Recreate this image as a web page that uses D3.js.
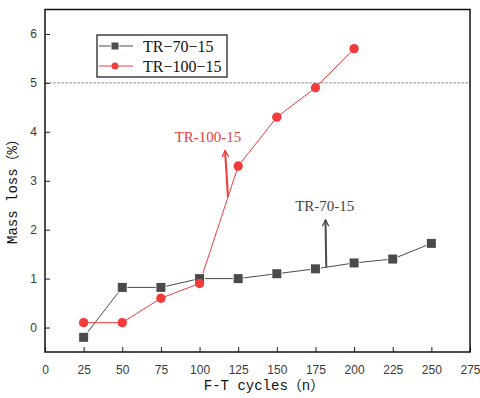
<!DOCTYPE html>
<html>
<head>
<meta charset="utf-8">
<script src="https://cdn.jsdelivr.net/npm/d3@7"></script>
<style>
  body { margin: 0; background: #fff; }
  svg { display: block; }
</style>
</head>
<body>
<div id="chart"></div>
<script>
// data
const cycles = [25, 50, 75, 100, 125, 150, 175, 200, 225, 250];
const tr70 = [-0.2, 0.82, 0.82, 1.0, 1.0, 1.1, 1.2, 1.32, 1.4, 1.72];
const tr100 = [0.1, 0.1, 0.6, 0.9, 3.3, 4.3, 4.9, 5.7];
const xTicks = [0, 25, 50, 75, 100, 125, 150, 175, 200, 225, 250, 275];
const yTicks = [0, 1, 2, 3, 4, 5, 6];
const limitLine = 5;

const W = 480, H = 398;
const red = "#f03c3c", grey = "#4a4a4a";

const svg = d3.select("#chart").append("svg")
    .attr("width", W).attr("height", H);

// scales
const x = d3.scaleLinear().domain([0, 275]).range([45, 470]);
const y = d3.scaleLinear().domain([-0.5, 6.5]).range([352, 9.5]);

// dotted 5% line
svg.append("line")
    .attr("x1", x(0)).attr("x2", x(275))
    .attr("y1", y(limitLine)).attr("y2", y(limitLine))
    .attr("stroke", "#9a9a9a").attr("stroke-width", 1)
    .attr("stroke-dasharray", "3,1");

// axes, ticks inside
const xAxis = svg.append("g")
    .attr("transform", "translate(0," + y(-0.5) + ")")
    .call(d3.axisBottom(x).tickValues(xTicks).tickFormat(d3.format("d"))
        .tickSizeInner(-5).tickSizeOuter(0).tickPadding(13));
const yAxis = svg.append("g")
    .attr("transform", "translate(" + x(0) + ",0)")
    .call(d3.axisLeft(y).tickValues(yTicks).tickFormat(d3.format("d"))
        .tickSizeInner(-5).tickSizeOuter(0).tickPadding(8));
[xAxis, yAxis].forEach(function (g) {
    g.select(".domain").remove();
    g.selectAll("line").attr("stroke", "#222").attr("stroke-width", 1);
    g.selectAll("text")
        .style("font-family", "'Liberation Sans', Arial, sans-serif")
        .style("font-size", "12px")
        .attr("fill", "#3a3a3a");
});

// frame
svg.append("rect")
    .attr("x", x(0)).attr("y", y(6.5))
    .attr("width", x(275) - x(0)).attr("height", y(-0.5) - y(6.5))
    .attr("fill", "none").attr("stroke", "#111").attr("stroke-width", 1.5);

// series
const line = d3.line().x(d => x(d[0])).y(d => y(d[1]));
const s70 = cycles.map((c, i) => [c, tr70[i]]);
const s100 = tr100.map((v, i) => [cycles[i], v]);

svg.append("path").attr("d", line(s70))
    .attr("fill", "none").attr("stroke", grey).attr("stroke-width", 1);
svg.append("path").attr("d", line(s100))
    .attr("fill", "none").attr("stroke", red).attr("stroke-width", 1);

svg.selectAll(".sq").data(s70).enter().append("rect")
    .attr("class", "sq")
    .attr("x", d => x(d[0]) - 4.5).attr("y", d => y(d[1]) - 4.5)
    .attr("width", 9).attr("height", 9)
    .attr("fill", grey).attr("stroke", "#fff").attr("stroke-width", 1.5)
    .attr("paint-order", "stroke");
svg.selectAll(".dot").data(s100).enter().append("circle")
    .attr("class", "dot")
    .attr("cx", d => x(d[0])).attr("cy", d => y(d[1]))
    .attr("r", 4.7).attr("fill", red);

// annotations with arrows
const defs = svg.append("defs");
function marker(id, color) {
    defs.append("marker").attr("id", id)
        .attr("viewBox", "0 0 10 10").attr("refX", 9).attr("refY", 5)
        .attr("markerWidth", 8).attr("markerHeight", 8).attr("orient", "auto")
        .attr("markerUnits", "userSpaceOnUse")
        .append("path").attr("d", "M1,1 L9,5 L1,9").attr("fill", "none")
        .attr("stroke", color).attr("stroke-width", 1.6);
}
marker("arRed", red);
marker("arGrey", grey);

svg.append("line")
    .attr("x1", x(118.4)).attr("y1", y(2.67))
    .attr("x2", x(116.5)).attr("y2", y(3.62))
    .attr("stroke", red).attr("stroke-width", 2).attr("marker-end", "url(#arRed)");
svg.append("text").text("TR-100-15")
    .attr("x", x(105.5)).attr("y", y(3.8))
    .attr("text-anchor", "middle").attr("fill", red)
    .style("font-family", "'Liberation Serif', 'Times New Roman', serif")
    .style("font-size", "15px");

svg.append("line")
    .attr("x1", x(182)).attr("y1", y(1.23))
    .attr("x2", x(181.5)).attr("y2", y(2.2))
    .attr("stroke", grey).attr("stroke-width", 2).attr("marker-end", "url(#arGrey)");
svg.append("text").text("TR-70-15")
    .attr("x", x(181)).attr("y", y(2.39))
    .attr("text-anchor", "middle").attr("fill", "#444")
    .style("font-family", "'Liberation Serif', 'Times New Roman', serif")
    .style("font-size", "15px");

// legend
const legend = svg.append("g").attr("transform", "translate(97,35)");
legend.append("rect").attr("width", 130).attr("height", 42)
    .attr("fill", "#fff").attr("stroke", "#111").attr("stroke-width", 1.2);
const items = [
    { name: "TR\u221270\u221215", color: grey, shape: "sq" },
    { name: "TR\u2212100\u221215", color: red, shape: "dot" }
];
items.forEach(function (it, i) {
    const g = legend.append("g").attr("transform", "translate(0," + (11 + i * 20) + ")");
    g.append("line").attr("x1", 2).attr("x2", 36)
        .attr("stroke", it.color).attr("stroke-width", 1);
    if (it.shape === "sq") {
        g.append("rect").attr("x", 14.5).attr("y", -3.5).attr("width", 7).attr("height", 7)
            .attr("fill", it.color).attr("stroke", "#fff").attr("stroke-width", 1.5)
            .attr("paint-order", "stroke");
    } else {
        g.append("circle").attr("cx", 18).attr("r", 3.5).attr("fill", it.color);
    }
    g.append("text").text(it.name)
        .attr("x", 46).attr("y", 5.5).attr("fill", "#111")
        .style("font-family", "'Liberation Serif', 'Times New Roman', serif")
        .style("font-size", "16px");
});

// axis titles
svg.append("text").text("F-T cycles\uff08n\uff09")
    .attr("x", 264).attr("y", 390).attr("text-anchor", "middle").attr("fill", "#111")
    .style("font-family", "'Liberation Mono', 'Noto Sans CJK SC', monospace")
    .style("font-size", "14px");
svg.append("text").text("Mass loss\uff08%\uff09")
    .attr("transform", "translate(17,188) rotate(-90)")
    .attr("text-anchor", "middle").attr("fill", "#111")
    .style("font-family", "'Liberation Mono', 'Noto Sans CJK SC', monospace")
    .style("font-size", "14px");
</script>
</body>
</html>
